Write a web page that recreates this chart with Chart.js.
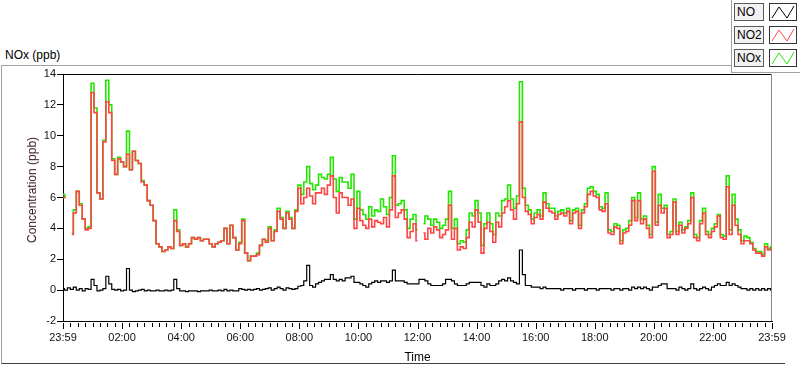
<!DOCTYPE html>
<html>
<head>
<meta charset="utf-8">
<script src="https://cdn.jsdelivr.net/npm/chart.js@4/dist/chart.umd.min.js"></script>
<style>
    body { margin: 0; background: #fff; font-family: "Liberation Sans", Arial, sans-serif; }
    #caixa { position: relative; width: 800px; height: 365px; overflow: hidden; }
    #grafico { position: absolute; left: 0; top: 0; }
    #titulo { position: absolute; left: 5px; top: 48px; font-size: 12px; color: #000; }
    #moldura { position: absolute; left: 1px; top: 65px; width: 783px; height: 297px;
        border-top: 1px solid #a0a0a0; border-left: 1px solid #a0a0a0; border-bottom: 1px solid #404040; }
    #legenda { position: absolute; left: 731px; top: 0; width: 69px; height: 72px; background: #fff;
        border-left: 1px solid #a0a0a0; border-bottom: 1px solid #a0a0a0; }
    .item { position: absolute; left: 2px; width: 66px; height: 18px; }
    .nome { position: absolute; left: 0; top: 0; width: 26px; height: 16px; border: 1px solid #5a5a5a;
        background: #f2f2f2; font-size: 12px; line-height: 16px; padding-left: 2px; color: #000; }
    .icone { position: absolute; left: 35px; top: 0; width: 26px; height: 16px; border: 1px solid #333; background: #fff; }
    #tituloY { position: absolute; left: 32px; top: 190px; transform: translate(-50%, -50%) rotate(-90deg);
        font-size: 12px; color: #3a1c1c; white-space: nowrap; }
</style>
</head>
<body>
<div id="caixa">
    <div id="moldura"></div>
    <div id="titulo">NOx (ppb)</div>
    <canvas id="grafico" width="800" height="365"></canvas>
    <div id="tituloY">Concentration (ppb)</div>
    <div id="legenda"></div>
</div>
<script>
// leituras a cada 6 minutos, de 23:59 ate 23:59 do dia seguinte
var passoMin = 6

var NO2 = [
    6.0, 6.0, null, 3.6, 5.0, 6.4, 5.5, 4.6, 3.9, 4.0,
    12.8, 11.5, 6.3, 5.9, 9.6, 12.2, 11.5, 8.4, 7.5, 8.5,
    8.3, 8.0, 8.8, 7.8, 9.0, 8.4, 8.2, 7.0, 6.8, 5.8,
    5.5, 4.5, 3.0, 2.8, 2.5, 2.6, 2.8, 2.7, 4.5, 3.8,
    2.9, 3.0, 2.8, 3.0, 3.4, 3.3, 3.4, 3.2, 3.3, 3.3,
    3.0, 2.8, 3.0, 3.1, 3.2, 4.0, 3.0, 4.2, 3.4, 2.6,
    3.0, 4.5, 2.4, 1.9, 2.2, 2.2, 2.3, 2.9, 3.3, 3.1,
    4.0, 3.2, 3.8, 5.1, 4.6, 4.0, 5.0, 4.6, 4.0, 5.1,
    6.6, 5.6, 6.0, 6.6, 6.1, 5.6, 6.3, 6.3, 6.6, 6.2,
    6.8, 7.4, 6.0, 5.0, 6.3, 6.0, 6.0, 5.5, 5.9, 4.0,
    5.3, 4.5, 4.2, 4.0, 4.6, 4.1, 4.5, 4.4, 4.3, 4.7,
    4.1, 5.2, 7.4, 4.7, 5.0, 5.2, 4.6, 3.4, 3.8, 4.3,
    3.2, null, 3.7, 3.3, 4.0, 3.7, 4.1, 3.9, 3.4, 3.6,
    3.9, 5.5, 3.3, 4.0, 2.6, 2.8, 2.7, 3.4, 4.4, 4.1,
    5.2, 4.4, 2.4, 4.0, 4.4, 3.8, 3.1, 4.4, 4.1, 5.0,
    5.4, 5.8, 5.2, 4.6, 5.6, 10.9, 6.0, 5.1, 4.9, 4.3,
    4.7, 4.9, 4.6, 5.7, 5.3, 5.1, 5.0, 4.6, 4.9, 5.0,
    4.8, 5.1, 4.3, 5.0, 5.1, 4.0, 5.0, 5.4, 6.2, 6.4,
    6.1, 6.0, 5.2, 5.1, 5.6, 3.7, 3.6, 4.1, 4.0, 3.0,
    3.7, 3.8, 4.2, 5.8, 4.5, 5.8, 4.3, 4.6, 4.0, 3.4,
    7.7, 4.2, 5.5, 5.0, 5.3, 3.4, 3.6, 5.7, 3.6, 4.2,
    3.7, 4.0, 4.3, 6.0, 3.4, 3.2, 4.3, 5.0, 3.6, 3.4,
    3.8, 4.1, 4.8, 3.4, 3.3, 6.7, 3.6, 5.5, 4.2, 3.6,
    3.0, 3.2, 3.2, 3.0, 2.6, 2.4, 2.4, 2.2, 2.8, 2.6,
    2.7
]

var NO = [
    0.1, 0.0, 0.15, 0.05, 0.2, 0.0, 0.1, -0.05, 0.1, 0.05,
    0.7, 0.3, -0.05, 0.0, 0.1, 0.9, 0.4, 0.05, 0.0, 0.05,
    -0.05, 0.0, 1.4, 0.0, -0.1, -0.05, 0.0, 0.05, -0.05, 0.0,
    -0.05, -0.05, 0.0, -0.05, -0.05, 0.0, -0.05, 0.0, 0.7, 0.1,
    -0.05, -0.05, -0.1, -0.05, -0.05, -0.05, -0.1, -0.05, -0.05, -0.05,
    0.0, -0.05, -0.05, 0.0, -0.05, 0.05, -0.05, 0.0, -0.05, -0.05,
    0.1, 0.05, 0.0, 0.05, 0.0, 0.05, 0.1, 0.0, 0.05, 0.1,
    0.15, 0.0, 0.1, 0.2, 0.1, 0.0, 0.15, 0.1, 0.05, 0.1,
    0.25, 0.3, 0.6, 1.6, 0.3, 0.2, 0.4, 0.5, 0.6, 0.7,
    0.7, 1.0, 0.7, 0.6, 0.7, 0.6, 0.8, 0.8, 0.9, 0.5,
    0.5, 0.4, 0.3, 0.2, 0.4, 0.5, 0.6, 0.5, 0.6, 0.6,
    0.5, 0.6, 1.3, 0.6, 0.6, 0.6, 0.5, 0.4, 0.4, 0.4,
    0.4, 0.7, 0.7, 0.6, 0.4, 0.3, 0.3, 0.3, 0.3, 0.4,
    0.7, 0.7, 0.6, 0.4, 0.3, 0.3, 0.3, 0.4, 0.5, 0.5,
    0.5, 0.5, 0.3, 0.2, 0.4, 0.3, 0.3, 0.4, 0.6, 0.7,
    0.6, 0.8, 0.6, 0.5, 0.4, 2.6, 1.0, 0.3, 0.3, 0.2,
    0.2, 0.2, 0.1, 0.2, 0.1, 0.1, 0.1, 0.1, 0.1, 0.0,
    0.1, 0.1, 0.1, 0.0, 0.1, 0.1, 0.1, 0.0, 0.1, 0.1,
    0.1, 0.0, 0.1, 0.1, 0.1, 0.1, 0.0, 0.1, 0.1, 0.0,
    0.1, 0.1, 0.0, 0.2, 0.1, 0.2, 0.1, 0.2, 0.1, 0.0,
    0.2, 0.2, 0.3, 0.4, 0.4, 0.1, 0.1, 0.1, 0.0, 0.2,
    0.1, 0.0, 0.1, 0.4, 0.1, 0.0, 0.1, 0.2, 0.1, 0.0,
    0.2, 0.3, 0.4, 0.3, 0.3, 0.5, 0.3, 0.4, 0.3, 0.2,
    0.1, 0.1, 0.0, 0.1, 0.0, 0.1, 0.0, 0.1, 0.0, 0.1,
    0.0
]

var NOx = [
    6.2, 6.1, null, 3.7, 5.2, 6.4, 5.6, 4.6, 4.0, 4.1,
    13.4, 11.8, 6.3, 5.9, 9.7, 13.6, 12.0, 8.5, 7.5, 8.6,
    8.3, 8.0, 10.3, 7.8, 9.0, 8.4, 8.2, 7.1, 6.8, 5.8,
    5.5, 4.5, 3.0, 2.8, 2.5, 2.6, 2.8, 2.7, 5.2, 3.9,
    2.9, 3.0, 2.8, 3.0, 3.4, 3.3, 3.4, 3.2, 3.3, 3.3,
    3.0, 2.8, 3.0, 3.1, 3.2, 4.0, 3.0, 4.2, 3.4, 2.6,
    3.1, 4.6, 2.4, 1.9, 2.2, 2.2, 2.4, 2.9, 3.3, 3.2,
    4.1, 3.2, 3.9, 5.3, 4.7, 4.0, 5.1, 4.7, 4.0, 5.2,
    6.8, 6.2, 7.0, 8.0, 6.9, 6.5, 6.8, 7.5, 7.3, 7.2,
    7.5, 8.6, 7.2, 6.4, 7.3, 7.0, 7.0, 6.6, 7.5, 4.6,
    6.4, 5.2, 4.9, 4.6, 5.4, 4.8, 5.2, 5.1, 5.9, 5.4,
    4.9, 6.0, 8.7, 5.5, 5.6, 5.8, 5.2, 4.0, 4.6, 4.9,
    3.9, null, 4.3, 4.8, 4.6, 4.2, 4.6, 4.4, 4.0, 4.2,
    4.6, 6.4, 4.0, 4.6, 3.0, 3.2, 3.1, 3.9, 5.0, 4.8,
    5.8, 5.0, 2.9, 4.3, 5.0, 4.3, 3.6, 5.0, 4.8, 5.8,
    5.9, 6.8, 5.9, 5.3, 6.1, 13.5, 6.6, 5.5, 5.2, 4.6,
    5.0, 5.2, 4.8, 6.3, 5.6, 5.3, 5.3, 4.8, 5.1, 5.2,
    5.0, 5.3, 4.5, 5.2, 5.3, 4.2, 5.2, 5.6, 6.6, 6.7,
    6.4, 6.2, 5.4, 5.3, 6.3, 3.9, 3.8, 4.3, 4.2, 3.2,
    3.9, 4.0, 4.5, 6.0, 4.7, 6.3, 4.6, 4.8, 4.2, 3.6,
    8.0, 4.4, 6.2, 5.3, 5.5, 3.6, 3.8, 5.9, 3.8, 4.4,
    3.9, 4.1, 4.5, 6.3, 3.6, 3.4, 4.5, 5.3, 3.8, 3.6,
    4.0, 4.3, 4.9, 3.6, 3.5, 7.4, 3.9, 6.2, 4.6, 3.9,
    3.2, 3.5, 3.4, 3.1, 2.7, 2.5, 2.5, 2.3, 3.0, 2.7,
    2.8
]

var rotulosHora = ['23:59', '02:00', '04:00', '06:00', '08:00', '10:00', '12:00',
    '14:00', '16:00', '18:00', '20:00', '22:00', '23:59']

var series = [
    { nome: 'NO', dados: NO, cor: '#000000', largura: 1.2 },
    { nome: 'NO2', dados: NO2, cor: '#ff4444', largura: 1.6 },
    { nome: 'NOx', dados: NOx, cor: '#22e600', largura: 1.6 }
]

function pontos(lista) {
    return lista.map(function (v, i) { return { x: i * passoMin, y: v } })
}

// tracinhos do eixo do tempo e bordas de cima/direita
var marcas = {
    id: 'marcas',
    afterDraw: function (chart) {
        var ctx = chart.ctx
        var a = chart.chartArea
        var ex = chart.scales.x
        ctx.save()
        ctx.lineWidth = 1
        ctx.strokeStyle = '#000'
        ctx.beginPath()
        ctx.moveTo(a.left, a.top + 0.5)
        ctx.lineTo(a.right, a.top + 0.5)
        ctx.stroke()
        ctx.strokeStyle = '#8a8a8a'
        ctx.beginPath()
        ctx.moveTo(a.right - 0.5, a.top)
        ctx.lineTo(a.right - 0.5, a.bottom)
        ctx.stroke()
        ctx.strokeStyle = '#000'
        for (var m = 0; m <= 1440; m += 15) {
            var px = Math.round(ex.getPixelForValue(m)) + 0.5
            var tam = (m % 120 == 0) ? 6 : 4
            ctx.beginPath()
            ctx.moveTo(px, a.bottom + 2)
            ctx.lineTo(px, a.bottom + 2 + tam)
            ctx.stroke()
        }
        ctx.restore()
    }
}

var fonteTick = { family: '"Liberation Sans", Arial, sans-serif', size: 11 }
var fonteTitulo = { family: '"Liberation Sans", Arial, sans-serif', size: 12 }

new Chart(document.getElementById('grafico').getContext('2d'), {
    type: 'line',
    data: {
        datasets: series.map(function (s) {
            return {
                label: s.nome,
                data: pontos(s.dados),
                borderColor: s.cor,
                backgroundColor: 'transparent',
                borderWidth: s.largura,
                pointRadius: 0,
                stepped: 'middle',
                spanGaps: false
            }
        })
    },
    options: {
        responsive: false,
        devicePixelRatio: 1,
        animation: false,
        layout: { padding: { top: 74, right: 28, left: 0, bottom: 0 } },
        plugins: { legend: { display: false }, tooltip: { enabled: false } },
        scales: {
            x: {
                type: 'linear',
                min: 0,
                max: 1440,
                afterFit: function (s) { s.height = 44 },
                grid: { display: true, drawOnChartArea: false, drawTicks: true, tickLength: 8, tickColor: 'transparent' },
                border: { display: true, color: '#000', width: 1 },
                ticks: {
                    stepSize: 120,
                    autoSkip: false,
                    maxRotation: 0,
                    padding: 2,
                    color: '#111',
                    font: fonteTick,
                    callback: function (v) { return rotulosHora[v / 120] }
                },
                title: { display: true, text: 'Time', color: '#000', font: fonteTitulo, padding: { top: 5, bottom: 0 } }
            },
            y: {
                min: -2,
                max: 14,
                afterFit: function (s) { s.width = 63 },
                grid: { display: true, drawOnChartArea: false, drawTicks: true, tickLength: 6, tickColor: '#000' },
                border: { display: true, color: '#000', width: 1 },
                ticks: { stepSize: 2, padding: 1, color: '#111', font: fonteTick },
                title: { display: false }
            }
        }
    },
    plugins: [marcas]
})

// legenda no canto
var leg = document.getElementById('legenda')
series.forEach(function (s, i) {
    var item = document.createElement('div')
    item.className = 'item'
    item.style.top = (3 + i * 23) + 'px'
    item.innerHTML = '<div class="nome">' + s.nome + '</div>' +
        '<div class="icone"><svg width="26" height="16"><polyline points="2,14 9,3 17,14 24,2" fill="none" stroke="' +
        s.cor + '" stroke-width="1"/></svg></div>'
    leg.appendChild(item)
})
</script>
</body>
</html>
